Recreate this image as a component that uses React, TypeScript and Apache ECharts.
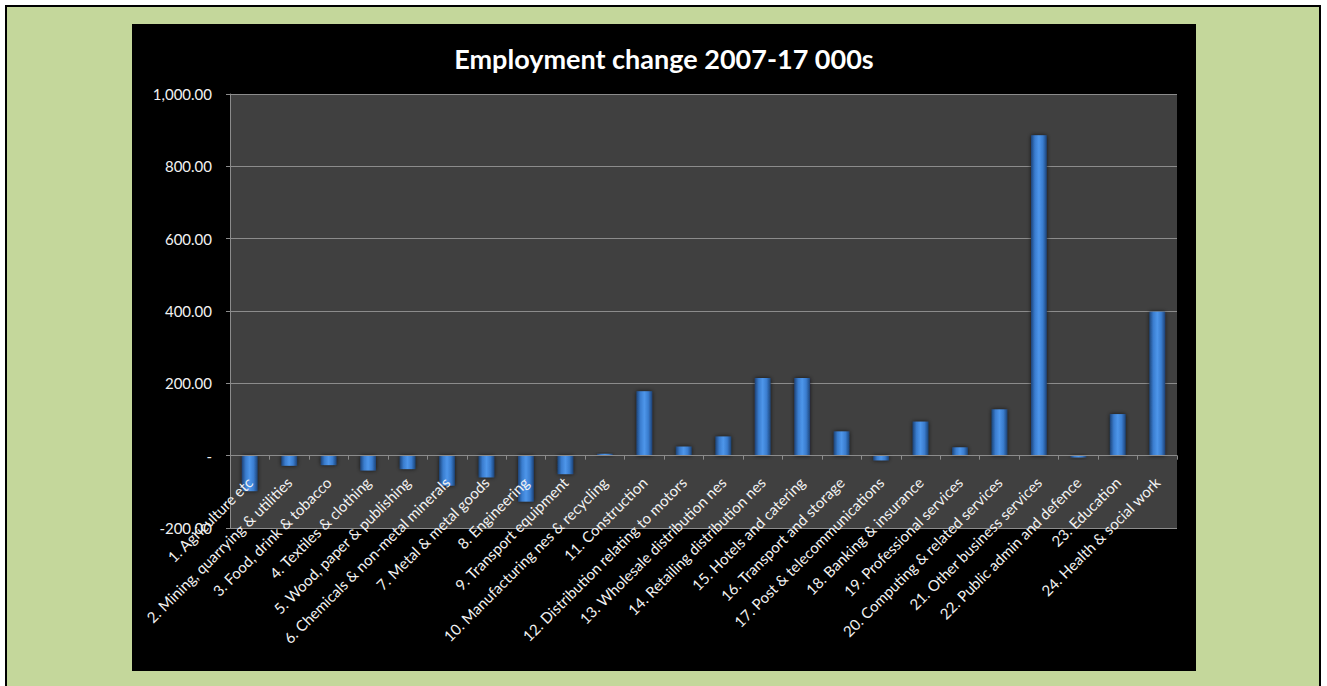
import React, { useEffect, useRef } from "react";
import * as echarts from "echarts";

const categories = [
  "1. Agriculture etc",
  "2. Mining, quarrying & utilities",
  "3. Food, drink & tobacco",
  "4. Textiles & clothing",
  "5. Wood, paper & publishing",
  "6. Chemicals & non-metal minerals",
  "7. Metal & metal goods",
  "8. Engineering",
  "9. Transport equipment",
  "10. Manufacturing nes & recycling",
  "11. Construction",
  "12. Distribution relating to motors",
  "13. Wholesale distribution nes",
  "14. Retailing distribution nes",
  "15. Hotels and catering",
  "16. Transport and storage",
  "17. Post & telecommunications",
  "18. Banking & insurance",
  "19. Professional services",
  "20. Computing & related services",
  "21. Other business services",
  "22. Public admin and defence",
  "23. Education",
  "24. Health & social work",
];

const employmentChange = [
  -98, -28, -26, -41, -37, -83, -60, -127, -51, 5, 178, 25, 53, 215, 215, 67,
  -13, 94, 23, 128, 886, -5, 115, 398,
];

const titleText = "Employment change 2007-17 000s";
const yMin = -200;
const yMax = 1000;
const yStep = 200;

const CHART_W = 1064;
const CHART_H = 647;
const GRID = { left: 98, right: 19, top: 70, bottom: 143 };

function fmt(v: number): string {
  if (v === 0) return "-";
  return v.toLocaleString("en-US", {
    minimumFractionDigits: 2,
    maximumFractionDigits: 2,
  });
}

export default function App() {
  const ref = useRef<HTMLDivElement>(null);
  useEffect(() => {
    const chart = echarts.init(ref.current!, null, { renderer: "svg" });
    const gridH = CHART_H - GRID.top - GRID.bottom;
    const zeroFromBottom = (gridH * (0 - yMin)) / (yMax - yMin);
    const barColor = new echarts.graphic.LinearGradient(0, 0, 1, 0, [
      { offset: 0, color: "#1d4479" },
      { offset: 0.25, color: "#3a7dcf" },
      { offset: 0.5, color: "#4e96ea" },
      { offset: 0.75, color: "#3a7dcf" },
      { offset: 1, color: "#1d4479" },
    ]);
    chart.setOption({
      animation: false,
      backgroundColor: "#000000",
      textStyle: { fontFamily: "Lato" },
      title: {
        text: titleText,
        left: "center",
        top: 16,
        textStyle: {
          color: "#ffffff",
          fontSize: 27,
          fontWeight: "bold",
          fontFamily: "Lato",
        },
      },
      grid: {
        left: GRID.left,
        right: GRID.right,
        top: GRID.top,
        bottom: GRID.bottom,
        show: true,
        backgroundColor: "#404040",
        borderWidth: 0,
        containLabel: false,
        outerBoundsMode: "none",
      },
      xAxis: {
        type: "category",
        data: categories,
        position: "bottom",
        offset: -zeroFromBottom,
        z: 5,
        axisLine: { onZero: false, lineStyle: { color: "#8c8c8c", width: 1 } },
        axisTick: {
          show: true,
          length: 4,
          lineStyle: { color: "#8c8c8c" },
        },
        axisLabel: {
          interval: 0,
          rotate: 45,
          color: "#f2f2f2",
          fontSize: 15,
          fontFamily: "Lato",
          margin: 24,
        },
      },
      yAxis: {
        type: "value",
        min: yMin,
        max: yMax,
        interval: yStep,
        axisLine: { show: true, lineStyle: { color: "#8c8c8c" } },
        axisTick: { show: true, length: 4, lineStyle: { color: "#8c8c8c" } },
        splitLine: { show: true, lineStyle: { color: "#8c8c8c", width: 1 } },
        axisLabel: {
          color: "#f2f2f2",
          fontSize: 15,
          fontFamily: "Lato",
          margin: 18,
          formatter: fmt,
        },
      },
      series: [
        {
          type: "bar",
          data: employmentChange,
          barWidth: "40%",
          z: 2,
          itemStyle: {
            color: barColor,
            shadowBlur: 4,
            shadowColor: "rgba(0,0,0,0.7)",
          },
        },
      ],
    });
    return () => chart.dispose();
  }, []);
  return (
    <div
      style={{
        position: "fixed",
        left: 0,
        top: 0,
        width: 1327,
        height: 686,
        background: "#ffffff",
        overflow: "hidden",
      }}
    >
      <div
        style={{
          position: "absolute",
          left: 5,
          top: 5,
          width: 1312,
          height: 700,
          border: "2px solid #000000",
          background: "#c4d79b",
        }}
      />
      <div
        ref={ref}
        style={{ position: "absolute", left: 132, top: 24, width: CHART_W, height: CHART_H }}
      />
    </div>
  );
}
